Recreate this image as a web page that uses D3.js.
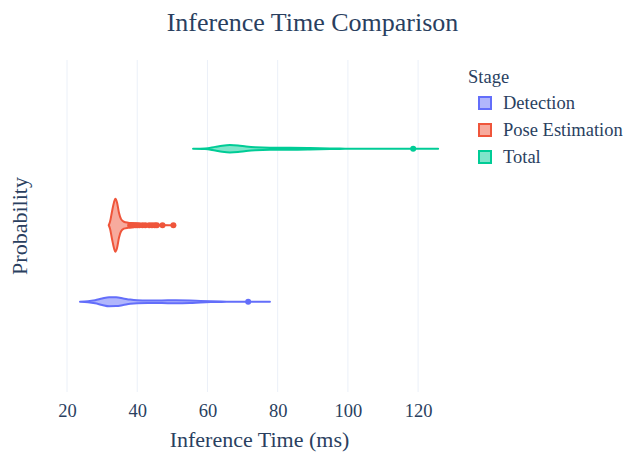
<!DOCTYPE html>
<head>
  <title>Inference Time Comparison</title>
  <meta charset="utf-8">
  <script type="text/javascript" src="https://cdn.jsdelivr.net/npm/d3@7/dist/d3.min.js"></script>
  <style>
    body { margin: 0; background: #fff; }
    text { font-family: "Liberation Serif", "Times New Roman", serif; fill: #2a3f5f; }
  </style>
</head>

<body>

<div id="container"></div>

<script>

  // chart dimensions
  const width = 623;
  const height = 452;
  const plot = {left: 57, right: 462, top: 60, bottom: 392};

  // data
  const stages = ['Detection', 'Pose Estimation', 'Total'];
  const colors = ['#636efa', '#EF553B', '#00cc96'];
  const xTicks = [20, 40, 60, 80, 100, 120];

  // violin outlines: [time (ms), relative density]
  const detectionDensity = [
    [23.7, 0], [26, 0.02], [28, 0.06], [30, 0.12], [32, 0.17], [34, 0.165],
    [36, 0.125], [38, 0.08], [40, 0.055], [43, 0.045], [47, 0.05], [51, 0.055],
    [55, 0.045], [58, 0.028], [61, 0.014], [64, 0.006], [68, 0.002], [72, 0.001], [77.8, 0]
  ];
  const poseDensity = [
    [31.88, 0], [32.25, 0.13], [32.82, 0.52], [33.39, 0.87], [33.76, 1], [34.25, 0.86],
    [34.8, 0.47], [35.4, 0.23], [36.2, 0.13], [37.4, 0.095], [38.8, 0.075], [40.8, 0.04],
    [43.6, 0.015], [46.5, 0.005], [50.8, 0]
  ];
  const totalDensity = [
    [55.9, 0], [59.3, 0.01], [62.2, 0.07], [64.2, 0.115], [66.4, 0.14], [68.7, 0.125],
    [71.0, 0.085], [73.6, 0.055], [77.8, 0.04], [83.5, 0.04], [89.2, 0.03], [94.9, 0.012],
    [99.2, 0.004], [103.5, 0.001], [109.2, 0.0005], [125.7, 0]
  ];
  const densities = [detectionDensity, poseDensity, totalDensity];

  // outlier points per stage (ms)
  const detectionOutliers = [71.6];
  const poseOutliers = [38.0, 38.5, 39.0, 39.5, 40.0, 40.6, 41.5, 42.3, 43.4, 44.2, 45.0, 45.6, 47.2, 50.3];
  const totalOutliers = [118.6];
  const outliers = [detectionOutliers, poseOutliers, totalOutliers];

  const svg = d3.select('div#container').append('svg')
    .attr('width', width)
    .attr('height', height);

  const xScale = d3.scaleLinear()
    .domain([17.15, 132.5])
    .range([plot.left, plot.right]);

  const yScale = d3.scaleLinear()
    .domain([-1.18, 3.16])
    .range([plot.bottom, plot.top]);

  // half width of violin in px for a density
  const wScale = d3.scaleLinear().domain([0, 1]).range([0, 26.5]);

  // grid lines
  svg.append('g')
    .selectAll('line')
    .data(xTicks)
    .enter()
    .append('line')
      .attr('x1', d => xScale(d))
      .attr('x2', d => xScale(d))
      .attr('y1', plot.top)
      .attr('y2', plot.bottom)
      .style('stroke', '#ebf0f8')
      .style('stroke-width', 1);

  // x-axis
  const xAxis = svg.append('g')
    .attr('transform', `translate(0, ${plot.bottom})`)
    .call(d3.axisBottom(xScale).tickValues(xTicks).tickSize(0).tickPadding(12));
  xAxis.select('.domain').remove();
  xAxis.selectAll('text')
    .style('font-size', '18.5px')
    .style('font-family', '"Liberation Serif", serif')
    .attr('fill', '#2a3f5f');

  // violins
  const violinGroup = svg.append('g');
  stages.forEach((stage, i) => {
    const yc = yScale(i);
    const area = d3.area()
      .x(d => xScale(d[0]))
      .y0(d => yc - wScale(d[1]))
      .y1(d => yc + wScale(d[1]))
      .curve(d3.curveMonotoneX);

    violinGroup.append('path')
      .datum(densities[i])
      .attr('d', area)
      .style('fill', colors[i])
      .style('fill-opacity', 0.5)
      .style('stroke', colors[i])
      .style('stroke-width', 2)
      .style('stroke-linejoin', 'round');

    violinGroup.selectAll('.pt-' + i)
      .data(outliers[i])
      .enter()
      .append('circle')
        .attr('cx', d => xScale(d))
        .attr('cy', yc)
        .attr('r', 3)
        .style('fill', colors[i]);
  });

  // title
  svg.append('text')
    .attr('x', width / 2 + 1)
    .attr('y', 31)
    .style('text-anchor', 'middle')
    .style('font-size', '26px')
    .text('Inference Time Comparison');

  // axis titles
  svg.append('text')
    .attr('x', (plot.left + plot.right) / 2)
    .attr('y', 447)
    .style('text-anchor', 'middle')
    .style('font-size', '22px')
    .text('Inference Time (ms)');

  svg.append('text')
    .attr('transform', `translate(27, ${(plot.top + plot.bottom) / 2}) rotate(-90)`)
    .style('text-anchor', 'middle')
    .style('font-size', '22px')
    .text('Probability');

  // legend
  const legendGroup = svg.append('g')
    .attr('transform', 'translate(468, 0)');

  legendGroup.append('text')
    .attr('x', 0)
    .attr('y', 83)
    .style('font-size', '18.5px')
    .text('Stage');

  const legendItem = legendGroup.selectAll('.legend-item')
    .data(stages)
    .enter()
    .append('g')
      .attr('transform', (d, i) => `translate(0, ${103 + 27 * i})`);

  legendItem.append('rect')
    .attr('x', 11)
    .attr('y', -6)
    .attr('width', 12)
    .attr('height', 12)
    .style('fill', (d, i) => colors[i])
    .style('fill-opacity', 0.5)
    .style('stroke', (d, i) => colors[i])
    .style('stroke-width', 2);

  legendItem.append('text')
    .attr('x', 35)
    .attr('y', 6)
    .style('font-size', '18.5px')
    .text(d => d);

</script>

</body>
